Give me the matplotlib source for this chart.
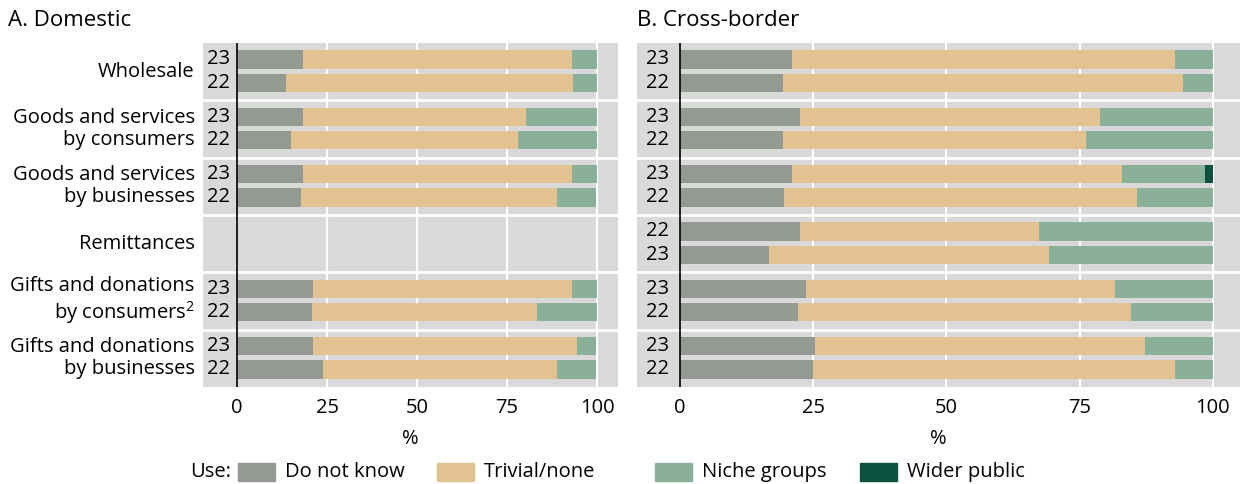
import matplotlib
matplotlib.use("Agg")
import matplotlib.pyplot as plt
import matplotlib.transforms as mtransforms
from matplotlib.patches import Rectangle

plt.rcParams["font.family"] = ["Open Sans", "DejaVu Sans"]
plt.rcParams["mathtext.fontset"] = "custom"
plt.rcParams["mathtext.rm"] = "Open Sans"

W, H = 1242, 484
FS = 14.5

CATEGORIES = [
    "Wholesale",
    "Goods and services\nby consumers",
    "Goods and services\nby businesses",
    "Remittances",
    "Gifts and donations\nby consumers$^{2}$",
    "Gifts and donations\nby businesses",
]
SERIES = ["Do not know", "Trivial/none", "Niche groups", "Wider public"]
COLORS = ["#939a92", "#e2c290", "#8ab09a", "#0d5240"]

# Domestic: per category, per bar (shares in %)
dom_years = [["23", "22"], ["23", "22"], ["23", "22"], [], ["23", "22"], ["23", "22"]]
dom_dnk = [[18.2, 13.7], [18.2, 15.1], [18.2, 17.9], [], [21.0, 20.8], [21.0, 23.8]]
dom_trivial = [[74.7, 79.5], [62.1, 62.9], [74.7, 70.9], [], [71.9, 62.6], [73.3, 65.0]]
dom_niche = [[7.1, 6.8], [19.7, 22.0], [7.1, 11.0], [], [7.1, 16.6], [5.5, 11.0]]
dom_wider = [[0, 0], [0, 0], [0, 0], [], [0, 0], [0, 0]]

# Cross-border
cb_years = [["23", "22"], ["23", "22"], ["23", "22"], ["22", "23"], ["23", "22"], ["23", "22"]]
cb_dnk = [[21.1, 19.3], [22.5, 19.4], [21.1, 19.6], [22.5, 16.7], [23.7, 22.1], [25.3, 24.9]]
cb_trivial = [[71.8, 75.1], [56.4, 56.8], [61.9, 66.2], [44.9, 52.6], [57.9, 62.6], [62.0, 68.0]]
cb_niche = [[7.1, 5.6], [21.1, 23.8], [15.5, 14.2], [32.6, 30.7], [18.4, 15.3], [12.7, 7.1]]
cb_wider = [[0, 0], [0, 0], [1.5, 0], [0, 0], [0, 0], [0, 0]]


def px_axes(x0, x1, y0=43, y1=387):
    return [x0 / W, 1 - y1 / H, (x1 - x0) / W, (y1 - y0) / H]


def panel(ax, years, dnk, trivial, niche, wider, xlim, year_x, labels):
    ax.set_facecolor("#d9d9d9")
    for s in ax.spines.values():
        s.set_visible(False)
    ax.set_xlim(*xlim)
    ax.set_ylim(len(CATEGORIES), 0)
    for v in (25, 50, 75, 100):
        ax.axvline(v, color="white", lw=1.5, zorder=1)
    for i in range(1, len(CATEGORIES)):
        ax.axhline(i, color="white", lw=2, zorder=1)
    offsets = [0.285, 0.693]
    for i in range(len(CATEGORIES)):
        for j, yr in enumerate(years[i]):
            y = i + offsets[j]
            vals = [dnk[i][j], trivial[i][j], niche[i][j], wider[i][j]]
            left = 0
            for v, c in zip(vals, COLORS):
                if v > 0:
                    ax.barh(y, v, left=left, height=0.32, color=c, zorder=2)
                left += v
            ax.text(year_x, y, yr, ha="center", va="center", fontsize=FS)
    ax.axvline(0, color="black", lw=1.2, zorder=3)
    ax.set_yticks([])
    ax.set_xticks([0, 25, 50, 75, 100])
    ax.tick_params(axis="x", length=0, pad=8, labelsize=FS)
    ax.set_xlabel("%", fontsize=FS, labelpad=8)
    if labels:
        tr = mtransforms.blended_transform_factory(ax.transAxes, ax.transData)
        for i, cat in enumerate(CATEGORIES):
            ax.text(-0.02, i + 0.5, cat, transform=tr, ha="right", va="center",
                    fontsize=FS, linespacing=1.15)


fig = plt.figure(figsize=(W / 100, H / 100), dpi=100)
ax1 = fig.add_axes(px_axes(203, 618))
ax2 = fig.add_axes(px_axes(637, 1240))
panel(ax1, dom_years, dom_dnk, dom_trivial, dom_niche, dom_wider,
      (-9.44, 105.8), -5.0, True)
panel(ax2, cb_years, cb_dnk, cb_trivial, cb_niche, cb_wider,
      (-8.07, 105.1), -4.2, False)

fig.text(8 / W, 1 - 20 / H, "A. Domestic", fontsize=FS + 1.5, va="center")
fig.text(637 / W, 1 - 20 / H, "B. Cross-border", fontsize=FS + 1.5, va="center")

# legend
ly = 1 - 472 / H
fig.text(190 / W, ly, "Use:", fontsize=FS, va="center")
patch_x = [238, 437, 655, 860]
for x, name, c in zip(patch_x, SERIES, COLORS):
    fig.patches.append(Rectangle((x / W, ly - 9 / H), 37 / W, 18 / H,
                                 transform=fig.transFigure, color=c))
    fig.text((x + 47) / W, ly, name, fontsize=FS, va="center")

fig.savefig("out.png", dpi=100)
